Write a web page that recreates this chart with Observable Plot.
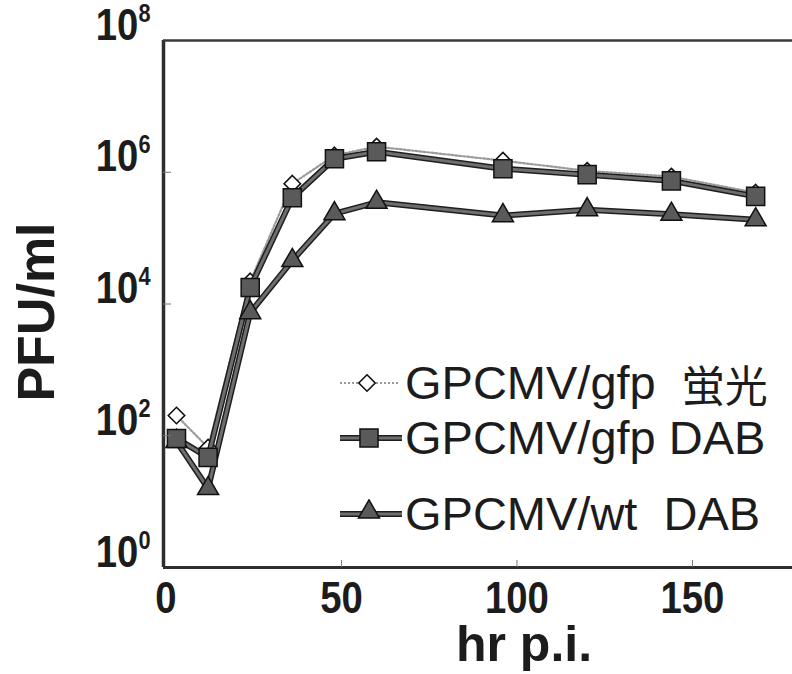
<!DOCTYPE html>
<html><head><meta charset="utf-8">
<script src="https://cdn.jsdelivr.net/npm/d3@7"></script>
<script src="https://cdn.jsdelivr.net/npm/@observablehq/plot@0.6"></script>
<style>
html,body{margin:0;padding:0;background:#fff;}
#wrap{position:relative;width:792px;height:674px;overflow:hidden;}
#wrap svg{display:block;}
.lrow{position:absolute;left:338px;height:50px;display:flex;align-items:center;white-space:pre;
  font-family:"Liberation Sans",Arial,sans-serif;font-size:47px;line-height:50px;color:#1c1c1c;}
.lrow svg{flex:none;margin-right:1px;}
.cjk{font-family:"Noto Sans CJK JP","Noto Sans CJK SC",sans-serif;font-size:43px;}
</style></head>
<body><div id="wrap"></div>
<script>
// ---- data ----
const hours = [3, 12, 24, 36, 48, 60, 96, 120, 144, 168];
const gfpFluor = [203, 66, 22000, 670000, 1.8e6, 2.45e6, 1.5e6, 1.05e6, 8.6e5, 4.9e5];
const gfpDAB   = [91, 47, 17800, 410000, 1.6e6, 2.05e6, 1.13e6, 9.2e5, 7.4e5, 4.3e5];
const wtDAB    = [82, 15.8, 7400, 45700, 2.35e5, 3.5e5, 2.2e5, 2.7e5, 2.3e5, 1.9e5];
const seriesNames = ["GPCMV/gfp", "GPCMV/gfp DAB", "GPCMV/wt\u00a0\u00a0DAB"];
const seriesSuffix = ["\u00a0\u00a0", "", ""];
const cjkSuffix = ["蛍光", "", ""];
const xTicks = [0, 50, 100, 150];
const yTicks = [1, 1e2, 1e4, 1e6, 1e8];
const xTitle = "hr p.i.";
const yTitle = "PFU/ml";

// ---- layout ----
const W = 792, H = 674, mL = 163, mT = 40, mB = 107;
const xDomain = [-0.7, 178.5], yDomain = [1, 1e8];
const plotW = W - mL, plotH = H - mT - mB;
const sans = "'Liberation Sans',Arial,sans-serif";

const rows = vals => hours.map((h, i) => ({h, v: vals[i]}));
const dF = rows(gfpFluor), dD = rows(gfpDAB), dW = rows(wtDAB);

const lineOuter = {x: "h", y: "v", stroke: "#1e1e1e", strokeWidth: 6};
const lineInner = {x: "h", y: "v", stroke: "#6e6e6e", strokeWidth: 3};

const chart = Plot.plot({
  width: W, height: H,
  marginLeft: mL, marginRight: 0, marginTop: mT, marginBottom: mB,
  x: {type: "linear", domain: xDomain},
  y: {type: "log", domain: yDomain},
  style: {background: "#fff", color: "#1c1c1c"},
  marks: [
    Plot.line(dF, {x: "h", y: "v", stroke: "#9a9a9a", strokeWidth: 2.2, strokeDasharray: "2,2"}),
    Plot.dot(dF, {x: "h", y: "v", symbol: "diamond2", r: 7.4, fill: "white", stroke: "#111", strokeWidth: 1.6}),
    Plot.line(dW, lineOuter), Plot.line(dW, lineInner),
    Plot.line(dD, lineOuter), Plot.line(dD, lineInner),
    Plot.dot(dW, {x: "h", y: "v", symbol: "triangle", r: 7.8, fill: "#5a5a5a", stroke: "#111", strokeWidth: 1.5}),
    Plot.dot(dD, {x: "h", y: "v", symbol: "square", r: 10.2, fill: "#5a5a5a", stroke: "#111", strokeWidth: 1.5}),
    Plot.ruleX([xDomain[0]], {stroke: "#2e2e2e", strokeWidth: 3.5}),
    Plot.ruleY([yDomain[0]], {stroke: "#2e2e2e", strokeWidth: 3}),
    Plot.ruleY([yDomain[1]], {stroke: "#3a3a3a", strokeWidth: 2.5}),
    Plot.tickY(yTicks.slice(1, -1), {y: d => d, insetRight: plotW - 8, stroke: "#777", strokeWidth: 1}),
    Plot.tickX(xTicks.slice(1), {x: d => d, insetTop: plotH - 7, stroke: "#777", strokeWidth: 1}),
    Plot.axisY(yTicks, {tickSize: 0, tickPadding: 13, label: null, dy: -15,
      tickFormat: d => "10^" + Math.round(Math.log10(d)),
      fontSize: 44, fontWeight: "bold", fontFamily: sans, fill: "#1c1c1c"}),
    Plot.axisX(xTicks, {tickSize: 0, tickPadding: 14, label: null,
      fontSize: 44, fontWeight: "bold", fontFamily: sans, fill: "#1c1c1c"}),
    Plot.text([xTitle], {text: d => d, frameAnchor: "bottom", lineAnchor: "bottom", textAnchor: "middle", dx: 46, dy: 93,
      fontSize: 50, fontWeight: "bold", fontFamily: sans, fill: "#1c1c1c"}),
    Plot.text([yTitle], {text: d => d, frameAnchor: "left", lineAnchor: "bottom", textAnchor: "middle", rotate: -90, dx: -110, dy: 8,
      fontSize: 52, fontWeight: "bold", fontFamily: sans, fill: "#1c1c1c"})
  ]
});

// superscript exponents on the y tick labels
d3.select(chart).selectAll('g[aria-label="y-axis tick label"] text').each(function () {
  const parts = this.textContent.split("^");
  const s = d3.select(this);
  s.text(parts[0]);
  s.append("tspan").attr("dy", -18).attr("font-size", 25).text(parts[1]);
});
// condensed look of the tick labels (narrow bold face)
d3.select(chart).selectAll('g[aria-label="y-axis tick label"] text, g[aria-label="x-axis tick label"] text')
  .attr("transform", function () { return (this.getAttribute("transform") || "") + " scale(0.87,1)"; });

const wrap = document.getElementById("wrap");
wrap.appendChild(chart);

// ---- legend overlay ----
const legendTops = [358, 413, 489];
const swatch = (kind) => {
  const svg = d3.create("svg").attr("width", 66).attr("height", 30);
  if (kind === 0) {
    svg.append("line").attr("x1", 2).attr("x2", 60).attr("y1", 15).attr("y2", 15)
      .attr("stroke", "#9a9a9a").attr("stroke-width", 2.2).attr("stroke-dasharray", "2,2");
    svg.append("path").attr("transform", "translate(29,15)")
      .attr("d", d3.symbol(d3.symbolDiamond2, Math.PI * 7.4 * 7.4)()).attr("fill", "white")
      .attr("stroke", "#111").attr("stroke-width", 1.6);
  } else {
    svg.append("line").attr("x1", 2).attr("x2", 64).attr("y1", 15).attr("y2", 15)
      .attr("stroke", "#1e1e1e").attr("stroke-width", 6);
    svg.append("line").attr("x1", 2).attr("x2", 64).attr("y1", 15).attr("y2", 15)
      .attr("stroke", "#6e6e6e").attr("stroke-width", 3);
    const sym = kind === 1 ? d3.symbolSquare : d3.symbolTriangle;
    const r = kind === 1 ? 10.2 : 7.8;
    svg.append("path").attr("transform", `translate(31,${kind === 1 ? 15 : 13})`)
      .attr("d", d3.symbol(sym, Math.PI * r * r)()).attr("fill", "#5a5a5a")
      .attr("stroke", "#111").attr("stroke-width", 1.5);
  }
  return svg.node();
};
seriesNames.forEach((name, i) => {
  const row = document.createElement("div");
  row.className = "lrow";
  row.style.top = legendTops[i] + "px";
  row.appendChild(swatch(i));
  const t = document.createElement("span");
  t.textContent = name + seriesSuffix[i];
  row.appendChild(t);
  if (cjkSuffix[i]) {
    const c = document.createElement("span");
    c.className = "cjk";
    c.textContent = cjkSuffix[i];
    row.appendChild(c);
  }
  wrap.appendChild(row);
});
</script>
</body></html>
